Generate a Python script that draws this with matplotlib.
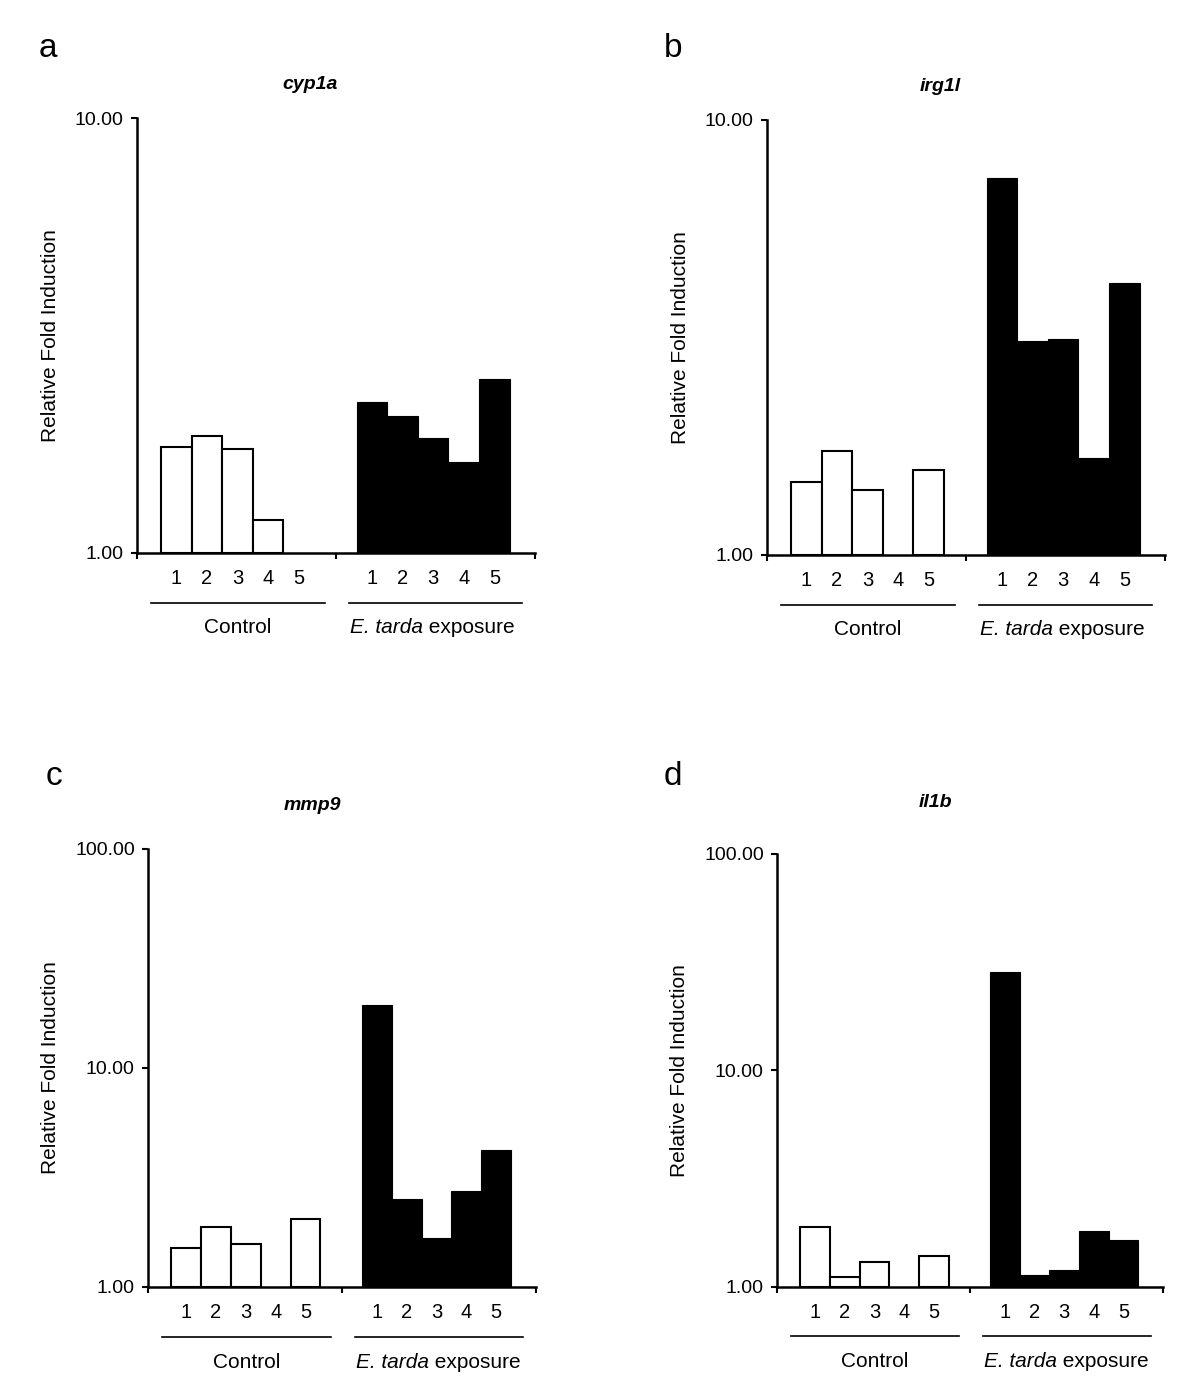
import numpy as np
import matplotlib
matplotlib.use("Agg")
import matplotlib.pyplot as plt
from matplotlib.ticker import FixedLocator, NullLocator

plt.rcParams["font.family"] = ["Liberation Sans", "DejaVu Sans"]

# fold induction per fish (nan = no bar drawn)
GENES = ["cyp1a", "irg1l", "mmp9", "il1b"]
LETTERS = ["a", "b", "c", "d"]
FISH = ["1", "2", "3", "4", "5"]

cyp1a_control = [1.75, 1.86, 1.73, 1.19, np.nan]
cyp1a_exposed = [2.22, 2.06, 1.84, 1.62, 2.51]
irg1l_control = [1.47, 1.73, 1.41, np.nan, 1.57]
irg1l_exposed = [7.36, 3.10, 3.14, 1.67, 4.22]
mmp9_control = [1.51, 1.88, 1.57, np.nan, 2.04]
mmp9_exposed = [19.4, 2.52, 1.67, 2.74, 4.22]
il1b_control = [1.89, 1.11, 1.30, np.nan, 1.39]
il1b_exposed = [28.6, 1.14, 1.20, 1.81, 1.65]

CONTROL = [cyp1a_control, irg1l_control, mmp9_control, il1b_control]
EXPOSED = [cyp1a_exposed, irg1l_exposed, mmp9_exposed, il1b_exposed]
YMAX = [10, 10, 100, 100]

# axes rectangles in figure fractions
RECTS = [
    [0.1142, 0.6013, 0.3317, 0.3136],
    [0.6392, 0.5999, 0.3317, 0.3136],
    [0.1233, 0.0721, 0.3233, 0.3158],
    [0.6475, 0.0721, 0.3217, 0.3122],
]
TITLE_X = [0.435, 0.435, 0.423, 0.41]
TITLE_DY = [0.024, 0.024, 0.031, 0.037]
LETTER_POS = [(0.032, 0.965), (0.553, 0.965), (0.038, 0.440), (0.553, 0.440)]

ctrl_x = np.arange(5) + 1.28
exp_x = np.arange(5) + 7.67

fig = plt.figure(figsize=(12, 13.87), dpi=100)

for i in range(4):
    ax = fig.add_axes(RECTS[i])
    c = np.array(CONTROL[i], dtype=float)
    e = np.array(EXPOSED[i], dtype=float)
    ax.bar(ctrl_x, c - 1, bottom=1, width=1.0, color="white",
           edgecolor="black", linewidth=1.5, zorder=2)
    ax.bar(exp_x, e - 1, bottom=1, width=1.0, color="black",
           edgecolor="black", linewidth=0.8, zorder=2)

    ax.set_yscale("log")
    ax.set_ylim(1, YMAX[i])
    ax.set_xlim(0, 13)
    yt = [1, 10] if YMAX[i] == 10 else [1, 10, 100]
    ax.yaxis.set_major_locator(FixedLocator(yt))
    ax.yaxis.set_minor_locator(NullLocator())
    ax.set_yticklabels(["%.2f" % v for v in yt], fontsize=14)
    ax.set_xticks([0, 6.5, 13])
    ax.set_xticklabels([])
    ax.tick_params(axis="both", direction="out", length=4.5, width=1.5)
    ax.tick_params(axis="y", pad=5)

    for s in ["top", "right"]:
        ax.spines[s].set_visible(False)
    for s in ["left", "bottom"]:
        ax.spines[s].set_linewidth(1.8)

    ax.set_ylabel("Relative Fold Induction", fontsize=15, labelpad=11)

    trans = ax.get_xaxis_transform()
    for xs in (ctrl_x, exp_x):
        for x, lab in zip(xs, FISH):
            ax.text(x, -0.058, lab, transform=trans, ha="center", va="center",
                    fontsize=14.5)
    ax.plot([0.46, 6.14], [-0.114, -0.114], color="black", lw=1.2,
            transform=trans, clip_on=False)
    ax.plot([6.93, 12.58], [-0.114, -0.114], color="black", lw=1.2,
            transform=trans, clip_on=False)
    ax.text(3.3, -0.172, "Control", transform=trans, ha="center",
            va="center", fontsize=15)
    t1 = ax.text(6.97, -0.172, "E. tarda", transform=trans, ha="left",
                 va="center", fontsize=15, fontstyle="italic")
    ax.annotate(" exposure", xy=(1, 0), xycoords=t1, ha="left", va="bottom",
                fontsize=15)

    ax.text(TITLE_X[i], 1 + TITLE_DY[i] * 3.2, GENES[i], transform=ax.transAxes,
            ha="center", va="center", fontsize=14, fontweight="bold",
            fontstyle="italic")
    fig.text(LETTER_POS[i][0], LETTER_POS[i][1], LETTERS[i], fontsize=24,
             ha="left", va="center")

fig.savefig("out.png", dpi=100)
